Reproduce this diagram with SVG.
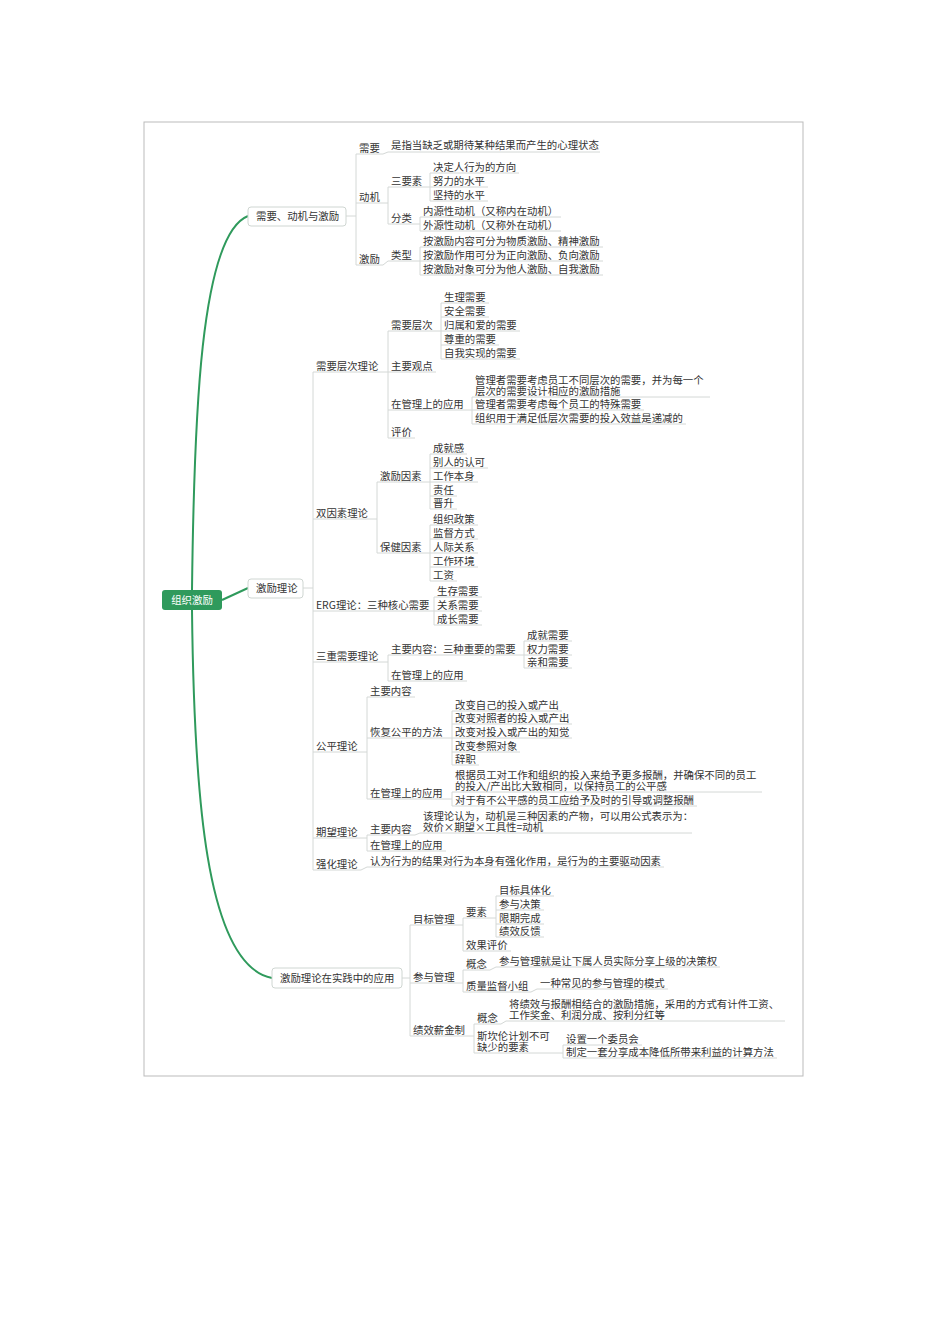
<svg xmlns="http://www.w3.org/2000/svg" width="950" height="1344" viewBox="0 0 950 1344">
<style>
text{font-family:"Noto Sans CJK SC","Liberation Sans",sans-serif;font-size:10.4px;fill:#333}
.u{stroke:#d4d8d6;stroke-width:1}
.c{stroke:#d4d8d6;stroke-width:1;fill:none}
.g{stroke:#2f9a5c;stroke-width:2;fill:none}
.b{fill:#fff;stroke:#cfd6d2;stroke-width:1}
</style>
<rect width="950" height="1344" fill="#fff"/>
<rect x="144" y="122" width="659" height="954" fill="none" stroke="#bbb"/>
<g id="connectors">
<path class="g" d="M192,590 C194,420 200,235 248,216"/>
<path class="g" d="M192,610 C194,790 205,965 272,978"/>
<path class="g" d="M222,600 L248,588" stroke-width="1"/>
<path class="c" d="M346,216H356M356,154V265"/>
<path class="c" d="M383,154L388,152M383,203H388M388,187V224M425,187H430M430,173V201M415,224H420M420,217V231M383,265L388,261M415,261H420M420,247V275"/>
<path class="c" d="M303,588H313M313,372V870"/>
<path class="c" d="M381,372H388M388,331V438M436,331H441M441,303V359M467,410H472M472,397V424"/>
<path class="c" d="M371,519H377M377,482V553M425,482H430M430,454V509M425,553H430M430,525V581"/>
<path class="c" d="M422,611H434M434,597V625"/>
<path class="c" d="M381,662H388M388,655V681M519,655H524M524,641V668"/>
<path class="c" d="M361,752H367M367,697V799M446,738H452M452,711V765M446,799H452M452,792V806"/>
<path class="c" d="M361,838H367M367,835V851M415,835L420,833M361,870L367,867"/>
<path class="c" d="M402,978H410M410,925V1036M458,925H463M463,918V951M490,918H496M496,896V937M458,983H463M463,970V992M490,970L496,967M531,992L537,989M468,1036H474M474,1024V1053M501,1024L506,1021M553,1053H563M563,1045V1058"/>
</g>
<g id="root"><rect x="162" y="590" width="60" height="20" rx="3" fill="#2f9a5c"/><text x="192" y="604" text-anchor="middle" style="fill:#fff">组织激励</text></g>
<g id="b1"><rect class="b" x="248" y="207" width="98" height="19" rx="3"/><text x="256" y="220">需要、动机与激励</text></g>
<g id="b2"><rect class="b" x="248" y="579" width="55" height="19" rx="3"/><text x="256" y="592">激励理论</text></g>
<g id="b3"><rect class="b" x="272" y="968" width="130" height="20" rx="3"/><text x="280" y="982">激励理论在实践中的应用</text></g>

<g id="n1"><text x="359" y="152">需要</text><line class="u" x1="356" y1="154" x2="383" y2="154"/></g>
<g id="n1a"><text x="391" y="149">是指当缺乏或期待某种结果而产生的心理状态</text><line class="u" x1="388" y1="152" x2="600" y2="152"/></g>
<g id="n2"><text x="359" y="201">动机</text><line class="u" x1="356" y1="203" x2="383" y2="203"/></g>
<g id="n2a"><text x="391" y="185">三要素</text><line class="u" x1="388" y1="187" x2="425" y2="187"/></g>
<g id="n2a1"><text x="433" y="171">决定人行为的方向</text><line class="u" x1="430" y1="173" x2="519" y2="173"/></g>
<g id="n2a2"><text x="433" y="185">努力的水平</text><line class="u" x1="430" y1="187" x2="488" y2="187"/></g>
<g id="n2a3"><text x="433" y="199">坚持的水平</text><line class="u" x1="430" y1="201" x2="488" y2="201"/></g>
<g id="n2b"><text x="391" y="222">分类</text><line class="u" x1="388" y1="224" x2="415" y2="224"/></g>
<g id="n2b1"><text x="423" y="215">内源性动机（又称内在动机）</text><line class="u" x1="420" y1="217" x2="561" y2="217"/></g>
<g id="n2b2"><text x="423" y="229">外源性动机（又称外在动机）</text><line class="u" x1="420" y1="231" x2="561" y2="231"/></g>
<g id="n3"><text x="359" y="263">激励</text><line class="u" x1="356" y1="265" x2="383" y2="265"/></g>
<g id="n3a"><text x="391" y="259">类型</text><line class="u" x1="388" y1="261" x2="415" y2="261"/></g>
<g id="n3a1"><text x="423" y="245">按激励内容可分为物质激励、精神激励</text><line class="u" x1="420" y1="247" x2="603" y2="247"/></g>
<g id="n3a2"><text x="423" y="259">按激励作用可分为正向激励、负向激励</text><line class="u" x1="420" y1="261" x2="603" y2="261"/></g>
<g id="n3a3"><text x="423" y="273">按激励对象可分为他人激励、自我激励</text><line class="u" x1="420" y1="275" x2="603" y2="275"/></g>

<g id="m1"><text x="316" y="370">需要层次理论</text><line class="u" x1="313" y1="372" x2="381" y2="372"/></g>
<g id="m1a"><text x="391" y="329">需要层次</text><line class="u" x1="388" y1="331" x2="436" y2="331"/></g>
<g id="m1a1"><text x="444" y="301">生理需要</text><line class="u" x1="441" y1="303" x2="489" y2="303"/></g>
<g id="m1a2"><text x="444" y="315">安全需要</text><line class="u" x1="441" y1="317" x2="489" y2="317"/></g>
<g id="m1a3"><text x="444" y="329">归属和爱的需要</text><line class="u" x1="441" y1="331" x2="520" y2="331"/></g>
<g id="m1a4"><text x="444" y="343">尊重的需要</text><line class="u" x1="441" y1="345" x2="499" y2="345"/></g>
<g id="m1a5"><text x="444" y="357">自我实现的需要</text><line class="u" x1="441" y1="359" x2="520" y2="359"/></g>
<g id="m1b"><text x="391" y="370">主要观点</text><line class="u" x1="388" y1="372" x2="436" y2="372"/></g>
<g id="m1c"><text x="391" y="408">在管理上的应用</text><line class="u" x1="388" y1="410" x2="467" y2="410"/></g>
<g id="m1c1"><text x="475" y="384">管理者需要考虑员工不同层次的需要，并为每一个</text><text x="475" y="395">层次的需要设计相应的激励措施</text><line class="u" x1="472" y1="397" x2="710" y2="397"/></g>
<g id="m1c2"><text x="475" y="408">管理者需要考虑每个员工的特殊需要</text><line class="u" x1="472" y1="410" x2="644" y2="410"/></g>
<g id="m1c3"><text x="475" y="422">组织用于满足低层次需要的投入效益是递减的</text><line class="u" x1="472" y1="424" x2="686" y2="424"/></g>
<g id="m1d"><text x="391" y="436">评价</text><line class="u" x1="388" y1="438" x2="415" y2="438"/></g>

<g id="m2"><text x="316" y="517">双因素理论</text><line class="u" x1="313" y1="519" x2="371" y2="519"/></g>
<g id="m2a"><text x="380" y="480">激励因素</text><line class="u" x1="377" y1="482" x2="425" y2="482"/></g>
<g id="m2a1"><text x="433" y="452">成就感</text><line class="u" x1="430" y1="454" x2="467" y2="454"/></g>
<g id="m2a2"><text x="433" y="466">别人的认可</text><line class="u" x1="430" y1="468" x2="488" y2="468"/></g>
<g id="m2a3"><text x="433" y="480">工作本身</text><line class="u" x1="430" y1="482" x2="478" y2="482"/></g>
<g id="m2a4"><text x="433" y="494">责任</text><line class="u" x1="430" y1="496" x2="457" y2="496"/></g>
<g id="m2a5"><text x="433" y="507">晋升</text><line class="u" x1="430" y1="509" x2="457" y2="509"/></g>
<g id="m2b"><text x="380" y="551">保健因素</text><line class="u" x1="377" y1="553" x2="425" y2="553"/></g>
<g id="m2b1"><text x="433" y="523">组织政策</text><line class="u" x1="430" y1="525" x2="478" y2="525"/></g>
<g id="m2b2"><text x="433" y="537">监督方式</text><line class="u" x1="430" y1="539" x2="478" y2="539"/></g>
<g id="m2b3"><text x="433" y="551">人际关系</text><line class="u" x1="430" y1="553" x2="478" y2="553"/></g>
<g id="m2b4"><text x="433" y="565">工作环境</text><line class="u" x1="430" y1="567" x2="478" y2="567"/></g>
<g id="m2b5"><text x="433" y="579">工资</text><line class="u" x1="430" y1="581" x2="457" y2="581"/></g>

<g id="m3"><text x="316" y="609">ERG理论：三种核心需要</text><line class="u" x1="313" y1="611" x2="422" y2="611"/></g>
<g id="m3a"><text x="437" y="595">生存需要</text><line class="u" x1="434" y1="597" x2="482" y2="597"/></g>
<g id="m3b"><text x="437" y="609">关系需要</text><line class="u" x1="434" y1="611" x2="482" y2="611"/></g>
<g id="m3c"><text x="437" y="623">成长需要</text><line class="u" x1="434" y1="625" x2="482" y2="625"/></g>

<g id="m4"><text x="316" y="660">三重需要理论</text><line class="u" x1="313" y1="662" x2="381" y2="662"/></g>
<g id="m4a"><text x="391" y="653">主要内容：三种重要的需要</text><line class="u" x1="388" y1="655" x2="519" y2="655"/></g>
<g id="m4a1"><text x="527" y="639">成就需要</text><line class="u" x1="524" y1="641" x2="572" y2="641"/></g>
<g id="m4a2"><text x="527" y="653">权力需要</text><line class="u" x1="524" y1="655" x2="572" y2="655"/></g>
<g id="m4a3"><text x="527" y="666">亲和需要</text><line class="u" x1="524" y1="668" x2="572" y2="668"/></g>
<g id="m4b"><text x="391" y="679">在管理上的应用</text><line class="u" x1="388" y1="681" x2="467" y2="681"/></g>

<g id="m5"><text x="316" y="750">公平理论</text><line class="u" x1="313" y1="752" x2="361" y2="752"/></g>
<g id="m5a"><text x="370" y="695">主要内容</text><line class="u" x1="367" y1="697" x2="415" y2="697"/></g>
<g id="m5b"><text x="370" y="736">恢复公平的方法</text><line class="u" x1="367" y1="738" x2="446" y2="738"/></g>
<g id="m5b1"><text x="455" y="709">改变自己的投入或产出</text><line class="u" x1="452" y1="711" x2="562" y2="711"/></g>
<g id="m5b2"><text x="455" y="722">改变对照者的投入或产出</text><line class="u" x1="452" y1="724" x2="572" y2="724"/></g>
<g id="m5b3"><text x="455" y="736">改变对投入或产出的知觉</text><line class="u" x1="452" y1="738" x2="572" y2="738"/></g>
<g id="m5b4"><text x="455" y="750">改变参照对象</text><line class="u" x1="452" y1="752" x2="520" y2="752"/></g>
<g id="m5b5"><text x="455" y="763">辞职</text><line class="u" x1="452" y1="765" x2="479" y2="765"/></g>
<g id="m5c"><text x="370" y="797">在管理上的应用</text><line class="u" x1="367" y1="799" x2="446" y2="799"/></g>
<g id="m5c1"><text x="455" y="779">根据员工对工作和组织的投入来给予更多报酬，并确保不同的员工</text><text x="455" y="790">的投入/产出比大致相同，以保持员工的公平感</text><line class="u" x1="452" y1="792" x2="762" y2="792"/></g>
<g id="m5c2"><text x="455" y="804">对于有不公平感的员工应给予及时的引导或调整报酬</text><line class="u" x1="452" y1="806" x2="697" y2="806"/></g>

<g id="m6"><text x="316" y="836">期望理论</text><line class="u" x1="313" y1="838" x2="361" y2="838"/></g>
<g id="m6a"><text x="370" y="833">主要内容</text><line class="u" x1="367" y1="835" x2="415" y2="835"/></g>
<g id="m6a1"><text x="423" y="820">该理论认为，动机是三种因素的产物，可以用公式表示为：</text><text x="423" y="831">效价×期望×工具性=动机</text><line class="u" x1="420" y1="833" x2="692" y2="833"/></g>
<g id="m6b"><text x="370" y="849">在管理上的应用</text><line class="u" x1="367" y1="851" x2="446" y2="851"/></g>
<g id="m7"><text x="316" y="868">强化理论</text><line class="u" x1="313" y1="870" x2="361" y2="870"/></g>
<g id="m7a"><text x="370" y="865">认为行为的结果对行为本身有强化作用，是行为的主要驱动因素</text><line class="u" x1="367" y1="867" x2="664" y2="867"/></g>

<g id="p1"><text x="413" y="923">目标管理</text><line class="u" x1="410" y1="925" x2="458" y2="925"/></g>
<g id="p1a"><text x="466" y="916">要素</text><line class="u" x1="463" y1="918" x2="490" y2="918"/></g>
<g id="p1a1"><text x="499" y="894">目标具体化</text><line class="u" x1="496" y1="896" x2="554" y2="896"/></g>
<g id="p1a2"><text x="499" y="908">参与决策</text><line class="u" x1="496" y1="910" x2="544" y2="910"/></g>
<g id="p1a3"><text x="499" y="922">限期完成</text><line class="u" x1="496" y1="924" x2="544" y2="924"/></g>
<g id="p1a4"><text x="499" y="935">绩效反馈</text><line class="u" x1="496" y1="937" x2="544" y2="937"/></g>
<g id="p1b"><text x="466" y="949">效果评价</text><line class="u" x1="463" y1="951" x2="511" y2="951"/></g>
<g id="p2"><text x="413" y="981">参与管理</text><line class="u" x1="410" y1="983" x2="458" y2="983"/></g>
<g id="p2a"><text x="466" y="968">概念</text><line class="u" x1="463" y1="970" x2="490" y2="970"/></g>
<g id="p2a1"><text x="499" y="965">参与管理就是让下属人员实际分享上级的决策权</text><line class="u" x1="496" y1="967" x2="720" y2="967"/></g>
<g id="p2b"><text x="466" y="990">质量监督小组</text><line class="u" x1="463" y1="992" x2="531" y2="992"/></g>
<g id="p2b1"><text x="540" y="987">一种常见的参与管理的模式</text><line class="u" x1="537" y1="989" x2="668" y2="989"/></g>
<g id="p3"><text x="413" y="1034">绩效薪金制</text><line class="u" x1="410" y1="1036" x2="468" y2="1036"/></g>
<g id="p3a"><text x="477" y="1022">概念</text><line class="u" x1="474" y1="1024" x2="501" y2="1024"/></g>
<g id="p3a1"><text x="509" y="1008">将绩效与报酬相结合的激励措施，采用的方式有计件工资、</text><text x="509" y="1019">工作奖金、利润分成、按利分红等</text><line class="u" x1="506" y1="1021" x2="785" y2="1021"/></g>
<g id="p3b"><text x="477" y="1040">斯坎伦计划不可</text><text x="477" y="1051">缺少的要素</text><line class="u" x1="474" y1="1053" x2="553" y2="1053"/></g>
<g id="p3b1"><text x="566" y="1043">设置一个委员会</text><line class="u" x1="563" y1="1045" x2="642" y2="1045"/></g>
<g id="p3b2"><text x="566" y="1056">制定一套分享成本降低所带来利益的计算方法</text><line class="u" x1="563" y1="1058" x2="777" y2="1058"/></g>
</svg>
